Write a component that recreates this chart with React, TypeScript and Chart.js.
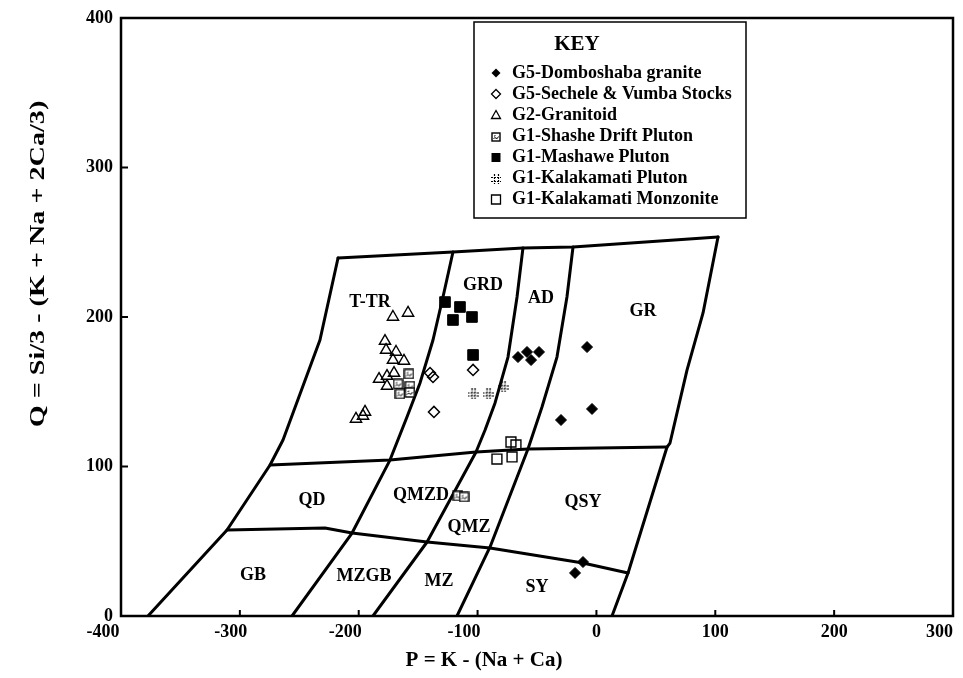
import React, { useEffect, useRef } from "react";
import { Chart, registerables } from "chart.js";

Chart.register(...registerables);

type Pt = [number, number];

// ---------- axis ticks ----------
const xTickValues = [-400, -300, -200, -100, 0, 100, 200, 300];
const yTickValues = [0, 100, 200, 300, 400];

// ---------- sample series (P, Q) ----------
const domboshaba: Pt[] = [
  [-66.0, 173.2], [-58.4, 176.6], [-55.0, 171.2], [-48.3, 176.6], [-7.9, 179.9],
  [-29.8, 131.1], [-3.7, 138.5], [-11.3, 36.1], [-18.0, 28.8],
];
const secheleVumba: Pt[] = [
  [-140.0, 162.5], [-137.5, 159.9], [-103.8, 164.6], [-136.7, 136.5],
];
const granitoid: Pt[] = [
  [-171.2, 200.0], [-158.5, 202.7], [-177.9, 183.9], [-177.0, 177.9], [-168.6, 176.6],
  [-171.2, 171.2], [-161.9, 170.6], [-170.3, 162.5], [-176.2, 160.5], [-182.9, 158.5],
  [-176.2, 153.8], [-194.7, 136.5], [-196.4, 133.8], [-202.3, 131.8],
];
const shasheDrift: Pt[] = [
  [-157.7, 161.9], [-166.9, 155.2], [-156.9, 153.8], [-165.3, 148.5], [-157.0, 149.5],
  [-116.5, 80.3], [-111.4, 79.6],
];
const mashawe: Pt[] = [
  [-127.4, 210.0], [-114.8, 206.7], [-120.7, 198.0], [-104.7, 200.0], [-103.8, 174.6],
];
const kalakamatiPluton: Pt[] = [
  [-103.8, 148.5], [-91.2, 148.5], [-78.6, 153.2],
];
const kalakamatiMonzonite: Pt[] = [
  [-71.9, 116.4], [-67.7, 114.4], [-83.7, 105.0], [-71.0, 106.4],
];

// ---------- field boundaries (P, Q) ----------
const topBoundary: Pt[] = [[-217.4, 239.5], [-120.7, 243.5], [-61.8, 246.2], [-19.7, 246.8], [102.3, 253.5]];
const leftBoundary: Pt[] = [[-217.4, 239.5], [-232.6, 184.6], [-263.7, 117.7], [-274.6, 101.0], [-310.8, 57.5], [-377.3, 0]];
const rightBoundary: Pt[] = [[102.3, 253.5], [89.7, 202.7], [76.2, 164.5], [61.9, 115.7], [59.4, 113.0], [26.6, 28.8], [13.1, 0]];
const divide1: Pt[] = [[-120.7, 243.5], [-129.1, 213.4], [-137.5, 184.6], [-148.4, 155.9], [-159.4, 133.1], [-173.7, 104.3], [-205.6, 55.5], [-256.1, 0]];
const divide2: Pt[] = [[-61.8, 246.2], [-66.8, 213.4], [-74.4, 173.2], [-85.3, 142.5], [-93.7, 124.4], [-101.3, 109.7], [-142.5, 49.5], [-188.0, 0]];
const divide3: Pt[] = [[-19.7, 246.8], [-24.8, 213.4], [-33.2, 173.2], [-45.8, 139.8], [-57.6, 111.7], [-89.5, 46.2], [-117.3, 0]];
const upperDivide: Pt[] = [[-274.6, 101.0], [-173.7, 104.3], [-101.3, 109.7], [-57.6, 111.7], [59.4, 113.0]];
const lowerDivide: Pt[] = [[-310.8, 57.5], [-228.4, 58.9], [-205.6, 55.5], [-142.5, 49.5], [-89.5, 45.5], [-11.3, 35.5], [26.6, 28.8]];

// ---------- field names ----------
const zoneNames = ["T-TR", "GRD", "AD", "GR", "QD", "QMZD", "QMZ", "QSY", "GB", "MZGB", "MZ", "SY"];
const zoneP = [-190.5, -95.4, -46.6, 39.2, -239.3, -147.6, -107.2, -11.3, -288.9, -195.6, -132.4, -50.0];
const zoneQ = [210.0, 221.4, 212.7, 204.0, 77.6, 80.9, 59.5, 76.3, 27.4, 26.8, 23.4, 19.4];

const seriesNames = [
  "G5-Domboshaba granite",
  "G5-Sechele & Vumba Stocks",
  "G2-Granitoid",
  "G1-Shashe Drift Pluton",
  "G1-Mashawe Pluton",
  "G1-Kalakamati Pluton",
  "G1-Kalakamati Monzonite",
];

const xTitle = "P = K - (Na + Ca)";
const yTitle = "Q = Si/3 - (K + Na + 2Ca/3)";

const FONT = '"Liberation Serif", "DejaVu Serif", serif';

// leftward nudge of x tick labels (in figure-space units), as printed in the original
const xLabelNudge: Record<string, number> = { "-400": 4, "-300": 2, "-200": 3, "-100": 3, "300": 3 };

function makeShashe(size: number): HTMLCanvasElement {
  const c = document.createElement("canvas");
  c.width = size;
  c.height = size;
  const g = c.getContext("2d")!;
  g.fillStyle = "#fff";
  g.fillRect(1, 1, size - 2, size - 2);
  g.strokeStyle = "#000";
  g.lineWidth = 1.4;
  g.strokeRect(1, 1, size - 2, size - 2);
  g.lineWidth = 1;
  g.beginPath();
  const s = size;
  g.moveTo(s * 0.25, s * 0.7);
  g.quadraticCurveTo(s * 0.38, s * 0.45, s * 0.5, s * 0.62);
  g.quadraticCurveTo(s * 0.62, s * 0.78, s * 0.75, s * 0.45);
  g.stroke();
  g.beginPath();
  g.moveTo(s * 0.3, s * 0.42);
  g.lineTo(s * 0.45, s * 0.36);
  g.stroke();
  return c;
}

function makeHash(size: number): HTMLCanvasElement {
  const c = document.createElement("canvas");
  c.width = size;
  c.height = size;
  const g = c.getContext("2d")!;
  g.strokeStyle = "#000";
  g.lineWidth = 1.2;
  g.setLineDash([2, 1]);
  const a = Math.round(size * 0.33) + 0.5;
  const b = Math.round(size * 0.67) + 0.5;
  g.beginPath();
  g.moveTo(a, 0); g.lineTo(a, size);
  g.moveTo(b, 0); g.lineTo(b, size);
  g.moveTo(0, a); g.lineTo(size, a);
  g.moveTo(0, b); g.lineTo(size, b);
  g.stroke();
  return c;
}

const toXY = (a: Pt[]) => a.map(([x, y]) => ({ x, y }));

export default function App() {
  const ref = useRef<HTMLCanvasElement>(null);

  useEffect(() => {
    document.body.style.margin = "0";
    const canvas = ref.current!;
    const shasheImg = makeShashe(11);
    const shasheLegend = makeShashe(10);
    const hashImg = makeHash(11);
    const hashLegend = makeHash(10);

    const markerSets = [
      { data: domboshaba, pointStyle: "rectRot", radius: 5.5, bg: "#000", bw: 1, legend: "rectRot" },
      { data: secheleVumba, pointStyle: "rectRot", radius: 5.5, bg: "rgba(0,0,0,0)", bw: 1.5, legend: "rectRotOpen" },
      { data: granitoid, pointStyle: "triangle", radius: 6.5, bg: "rgba(0,0,0,0)", bw: 1.4, legend: "triangle" },
      { data: shasheDrift, pointStyle: shasheImg, radius: 6, bg: "#fff", bw: 1, legend: "shashe" },
      { data: mashawe, pointStyle: "rect", radius: 7.5, bg: "#000", bw: 1, legend: "rect" },
      { data: kalakamatiPluton, pointStyle: hashImg, radius: 6, bg: "#fff", bw: 1, legend: "hash" },
      { data: kalakamatiMonzonite, pointStyle: "rect", radius: 7, bg: "rgba(0,0,0,0)", bw: 1.4, legend: "rectOpen" },
    ];

    const lineSets = [topBoundary, leftBoundary, rightBoundary, divide1, divide2, divide3, upperDivide, lowerDivide];

    const datasets: any[] = [
      ...markerSets.map((m, i) => ({
        label: seriesNames[i],
        data: toXY(m.data),
        pointStyle: m.pointStyle,
        pointRadius: m.radius,
        pointHoverRadius: m.radius,
        pointBackgroundColor: m.bg,
        pointBorderColor: "#000",
        pointBorderWidth: m.bw,
        showLine: false,
      })),
      ...lineSets.map((l, i) => ({
        label: "boundary" + i,
        data: toXY(l),
        showLine: true,
        borderColor: "#000",
        borderWidth: 3,
        pointRadius: 0,
        pointHoverRadius: 0,
        tension: 0,
        fill: false,
        borderCapStyle: "round",
        borderJoinStyle: "round",
      })),
    ];

    const framePlugin = {
      id: "frame",
      afterDatasetsDraw(chart: any) {
        const { ctx, chartArea: ca, scales } = chart;
        ctx.save();
        ctx.strokeStyle = "#000";
        ctx.lineWidth = 2.5;
        ctx.strokeRect(ca.left, ca.top, ca.right - ca.left, ca.bottom - ca.top);
        ctx.lineWidth = 2;
        ctx.beginPath();
        xTickValues.forEach((v) => {
          if (v === xTickValues[0] || v === xTickValues[xTickValues.length - 1]) return;
          const px = scales.x.getPixelForValue(v);
          ctx.moveTo(px, ca.bottom);
          ctx.lineTo(px, ca.bottom - 6);
        });
        yTickValues.forEach((v) => {
          if (v === yTickValues[0] || v === yTickValues[yTickValues.length - 1]) return;
          const py = scales.y.getPixelForValue(v);
          ctx.moveTo(ca.left, py);
          ctx.lineTo(ca.left + 7, py);
        });
        ctx.stroke();

        // field names
        ctx.fillStyle = "#000";
        ctx.font = `bold 18px ${FONT}`;
        ctx.textAlign = "center";
        ctx.textBaseline = "middle";
        zoneNames.forEach((n, i) => {
          ctx.fillText(n, scales.x.getPixelForValue(zoneP[i]), scales.y.getPixelForValue(zoneQ[i]));
        });
        ctx.restore();
      },
    };

    const keyPlugin = {
      id: "key",
      afterDraw(chart: any) {
        const { ctx } = chart;
        ctx.save();
        const bx = 474, by = 22, bw = 272, bh = 196;
        ctx.fillStyle = "#fff";
        ctx.fillRect(bx, by, bw, bh);
        ctx.strokeStyle = "#000";
        ctx.lineWidth = 1.5;
        ctx.strokeRect(bx, by, bw, bh);
        ctx.fillStyle = "#000";
        ctx.font = `bold 21px ${FONT}`;
        ctx.textAlign = "center";
        ctx.textBaseline = "middle";
        ctx.fillText("KEY", 577, 45);
        ctx.font = `bold 18px ${FONT}`;
        ctx.textAlign = "left";
        markerSets.forEach((m, i) => {
          const y = 73 + i * 21;
          const sx = 496;
          ctx.fillText(seriesNames[i], 512, y);
          ctx.lineWidth = 1.3;
          ctx.strokeStyle = "#000";
          ctx.beginPath();
          switch (m.legend) {
            case "rectRot":
            case "rectRotOpen":
              ctx.moveTo(sx, y - 4.5); ctx.lineTo(sx + 4.5, y); ctx.lineTo(sx, y + 4.5); ctx.lineTo(sx - 4.5, y); ctx.closePath();
              if (m.legend === "rectRot") ctx.fill(); else ctx.stroke();
              break;
            case "triangle":
              ctx.moveTo(sx, y - 4.5); ctx.lineTo(sx + 4.5, y + 3.5); ctx.lineTo(sx - 4.5, y + 3.5); ctx.closePath();
              ctx.stroke();
              break;
            case "rect":
              ctx.rect(sx - 4.5, y - 4, 9, 9); ctx.fill();
              break;
            case "rectOpen":
              ctx.rect(sx - 4.5, y - 4, 9, 9); ctx.stroke();
              break;
            case "shashe":
              ctx.drawImage(shasheLegend, sx - 5, y - 4);
              break;
            case "hash":
              ctx.drawImage(hashLegend, sx - 5, y - 4);
              break;
          }
        });
        ctx.restore();
      },
    };

    const titlePlugin = {
      id: "axisTitles",
      afterDraw(chart: any) {
        const { ctx } = chart;
        ctx.save();
        ctx.fillStyle = "#000";
        ctx.textAlign = "center";
        ctx.textBaseline = "middle";
        ctx.font = `bold 21px ${FONT}`;
        ctx.fillText(xTitle, 484, 661);
        ctx.translate(38, 264);
        ctx.rotate(-Math.PI / 2);
        ctx.scale(1.28, 1);
        ctx.font = `bold 22px ${FONT}`;
        ctx.fillText(yTitle, 0, 0);
        ctx.restore();
      },
    };

    const tickFont = { family: FONT, size: 18, weight: "bold" as const };

    const chart = new Chart(canvas, {
      type: "scatter",
      data: { datasets },
      options: {
        animation: false,
        responsive: true,
        maintainAspectRatio: false,
        layout: { padding: { top: 18, right: 10, left: 0, bottom: 0 } },
        plugins: {
          legend: { display: false },
          tooltip: { enabled: false },
        },
        scales: {
          x: {
            type: "linear",
            min: xTickValues[0],
            max: xTickValues[xTickValues.length - 1],
            afterBuildTicks: (s: any) => { s.ticks = xTickValues.map((v) => ({ value: v })); },
            ticks: {
              color: "#000",
              font: tickFont,
              padding: 6,
              autoSkip: false,
              maxRotation: 0,
              callback: (v: any) => {
                const t = String(v);
                return t + "\u2007".repeat(xLabelNudge[t] || 0);
              },
            },
            grid: { display: false, drawTicks: false },
            border: { display: false },
            afterFit: (s: any) => { s.height = 62; s.paddingLeft = 0; s.paddingRight = 0; },
          },
          y: {
            type: "linear",
            min: yTickValues[0],
            max: yTickValues[yTickValues.length - 1],
            afterBuildTicks: (s: any) => { s.ticks = yTickValues.map((v) => ({ value: v })); },
            ticks: { color: "#000", font: tickFont, padding: 8, autoSkip: false },
            grid: { display: false, drawTicks: false },
            border: { display: false },
            afterFit: (s: any) => { s.width = 121; s.paddingTop = 0; s.paddingBottom = 0; },
          },
        },
      } as any,
      plugins: [framePlugin, keyPlugin, titlePlugin],
    });

    return () => chart.destroy();
  }, []);

  return (
    <div style={{ width: 963, height: 678, position: "relative", background: "#fff" }}>
      <canvas ref={ref} />
    </div>
  );
}
